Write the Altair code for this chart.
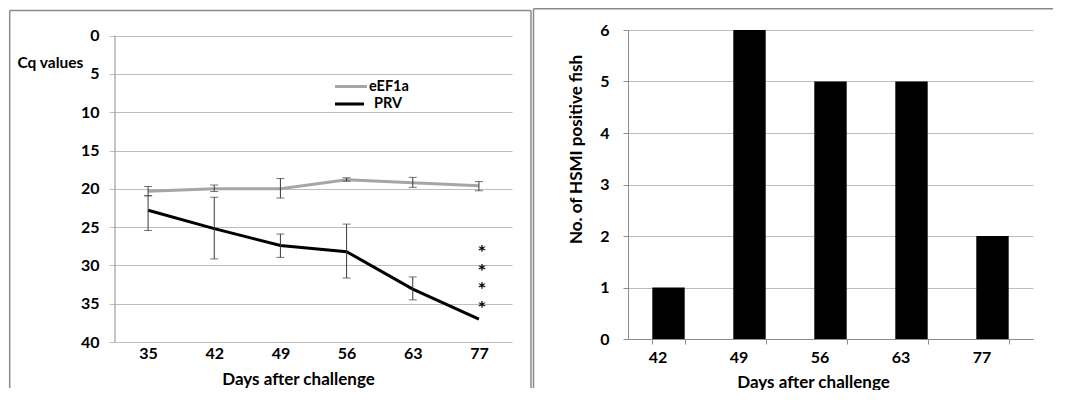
import altair as alt
import pandas as pd

# ---------------- data ----------------
days_cq = ["35", "42", "49", "56", "63", "77"]
series_names = ["eEF1a", "PRV"]
eef1a_cq = [20.3, 20.0, 20.0, 18.8, 19.2, 19.6]
eef1a_lo = [19.7, 19.5, 18.65, 18.55, 18.5, 19.05]
eef1a_hi = [20.9, 20.35, 21.2, 19.0, 19.8, 20.25]
prv_cq = [22.8, 25.2, 27.4, 28.2, 33.1, 37.0]
prv_lo = [20.9, 21.1, 25.9, 24.6, 31.5, None]
prv_hi = [25.45, 29.15, 28.95, 31.65, 34.5, None]
star_day = "77"
star_cq = [27.7, 30.15, 32.6, 35.1]
cq_ticks = [0, 5, 10, 15, 20, 25, 30, 35, 40]

days_hsmi = ["42", "49", "56", "63", "77"]
hsmi_count = [1, 6, 5, 5, 2]
count_ticks = [0, 1, 2, 3, 4, 5, 6]

# ---------------- tables ----------------
rows = []
for name, vals, los, his in [("eEF1a", eef1a_cq, eef1a_lo, eef1a_hi),
                             ("PRV", prv_cq, prv_lo, prv_hi)]:
    for d, v, lo, hi in zip(days_cq, vals, los, his):
        rows.append({"day": d, "series": name, "cq": v, "lo": lo, "hi": hi})
line_df = pd.DataFrame(rows)
err_df = line_df.dropna(subset=["lo", "hi"])
cap_rows = []
for _, r in err_df.iterrows():
    cap_rows.append({"day": r["day"], "v": r["lo"]})
    cap_rows.append({"day": r["day"], "v": r["hi"]})
cap_df = pd.DataFrame(cap_rows)
star_df = pd.DataFrame({"day": [star_day] * len(star_cq), "cq": star_cq})
axis_df = pd.DataFrame({"a": [cq_ticks[0]], "b": [cq_ticks[-1]]})
bar_df = pd.DataFrame({"day": days_hsmi, "count": hsmi_count})
one = alt.Data(values=[{}])

FONT = "Lato"
GRID = "#bdbdbd"
AXIS = "#8c8c8c"
FRAME = "#8a8a8a"
ERR = "#3a3a3a"
LABEL_SIZE = 16
TITLE_SIZE = 17
LEGEND_SIZE = 14.5

LW, LH = 397, 312
RW, RH = 405, 309

# ---------------- left panel ----------------
xl = alt.X("day:N", sort=days_cq,
           scale=alt.Scale(type="point", padding=0.5),
           axis=alt.Axis(title="Days after challenge", labelAngle=0, domain=False,
                         ticks=False, grid=False, labelPadding=3,
                         titleX=183, titleY=37, titleBaseline="middle",
                         titleAlign="center"))
yscale_l = alt.Scale(domain=[-0.745, 40], reverse=True, nice=False, zero=False)
yl_axis = alt.Axis(values=cq_ticks, domain=False, tickSize=6, tickColor=GRID,
                   labelPadding=10, title="Cq values", titleAngle=0, titleFontSize=15.5,
                   titleAlign="left", titleX=-98, titleY=32, titleBaseline="middle")

yaxis_line = alt.Chart(axis_df).mark_rule(color=AXIS, strokeWidth=1).encode(
    x=alt.value(0),
    y=alt.Y("a:Q", scale=yscale_l, axis=yl_axis, title="Cq values"),
    y2="b:Q")

err_rules = alt.Chart(err_df).mark_rule(color=ERR, strokeWidth=1).encode(
    x=xl, y=alt.Y("lo:Q", scale=yscale_l, axis=yl_axis, title="Cq values"), y2="hi:Q")

caps = alt.Chart(cap_df).mark_tick(color=ERR, thickness=1, size=8).encode(
    x=xl, y=alt.Y("v:Q", scale=yscale_l, axis=yl_axis, title="Cq values"))

lines = alt.Chart(line_df).mark_line(strokeWidth=3).encode(
    x=xl,
    y=alt.Y("cq:Q", scale=yscale_l, axis=yl_axis, title="Cq values"),
    color=alt.Color("series:N", scale=alt.Scale(domain=series_names,
                                                range=["#a6a6a6", "#000000"]),
                    legend=None),
    detail="series:N")

stars = alt.Chart(star_df).mark_text(text="*", font="DejaVu Sans", fontSize=14,
                                     fontWeight="bold", dx=3, dy=3, baseline="middle",
                                     color="#000000").encode(
    x=xl, y=alt.Y("cq:Q", scale=yscale_l, axis=yl_axis, title="Cq values"))

leg_line1 = alt.Chart(one).mark_rule(color="#a6a6a6", strokeWidth=3).encode(
    x=alt.value(220), x2=alt.value(252), y=alt.value(56.5))
leg_line2 = alt.Chart(one).mark_rule(color="#000000", strokeWidth=3).encode(
    x=alt.value(220), x2=alt.value(249), y=alt.value(74))
leg_text1 = alt.Chart(one).mark_text(text=series_names[0], font=FONT, fontSize=LEGEND_SIZE,
                                     fontWeight="bold", align="left", baseline="middle",
                                     color="black").encode(x=alt.value(254), y=alt.value(56.5))
leg_text2 = alt.Chart(one).mark_text(text=series_names[1], font=FONT, fontSize=LEGEND_SIZE,
                                     fontWeight="bold", align="left", baseline="middle",
                                     color="black").encode(x=alt.value(259), y=alt.value(74))

lf_top = alt.Chart(one).mark_rule(color=FRAME, strokeWidth=1.5).encode(
    x=alt.value(-105.3), x2=alt.value(416), y=alt.value(-19.5))
lf_left = alt.Chart(one).mark_rule(color=FRAME, strokeWidth=1.5).encode(
    x=alt.value(-105.3), y=alt.value(-19.5), y2=alt.value(358))
lf_right = alt.Chart(one).mark_rule(color=FRAME, strokeWidth=1.5).encode(
    x=alt.value(416), y=alt.value(-19.5), y2=alt.value(358))

left = alt.layer(yaxis_line, lines, err_rules, caps, stars,
                 leg_line1, leg_line2, leg_text1, leg_text2,
                 lf_top, lf_left, lf_right).properties(width=LW, height=LH)

# ---------------- right panel ----------------
xr = alt.X("day:N", sort=days_hsmi,
           scale=alt.Scale(paddingInner=0.6, paddingOuter=0.3),
           axis=alt.Axis(title="Days after challenge", labelAngle=0, tickBand="extent",
                         tickSize=5, grid=False, labelOffset=-11, labelPadding=5,
                         titleX=185, titleY=43, titleBaseline="middle",
                         titleAlign="center"))
yr = alt.Y("count:Q", scale=alt.Scale(domain=[0, 6], nice=False),
           axis=alt.Axis(values=count_ticks, tickSize=5, labelPadding=14,
                         title="No. of HSMI positive fish", titleAngle=270,
                         titleX=-52, titleY=119, titleBaseline="middle",
                         titleAlign="center"))

bars = alt.Chart(bar_df).mark_bar(color="#000000").encode(x=xr, y=yr)

rf_top = alt.Chart(one).mark_rule(color=FRAME, strokeWidth=1.5).encode(
    x=alt.value(-94.5), x2=alt.value(425), y=alt.value(-21.25))
rf_left = alt.Chart(one).mark_rule(color=FRAME, strokeWidth=1.5).encode(
    x=alt.value(-94.5), y=alt.value(-21.25), y2=alt.value(358))

right = alt.layer(bars, rf_top, rf_left).properties(width=RW, height=RH)

chart = alt.hconcat(left, right, spacing=0).properties(padding=0).configure_view(
    stroke=None
).configure_axis(
    labelFont=FONT, titleFont=FONT, labelFontWeight="bold", titleFontWeight="bold",
    labelFontSize=LABEL_SIZE, titleFontSize=TITLE_SIZE, labelColor="black",
    titleColor="black", gridColor=GRID, domainColor=AXIS, tickColor=AXIS
)

chart.save("out.html", embed_options={"renderer": "svg", "actions": False})
